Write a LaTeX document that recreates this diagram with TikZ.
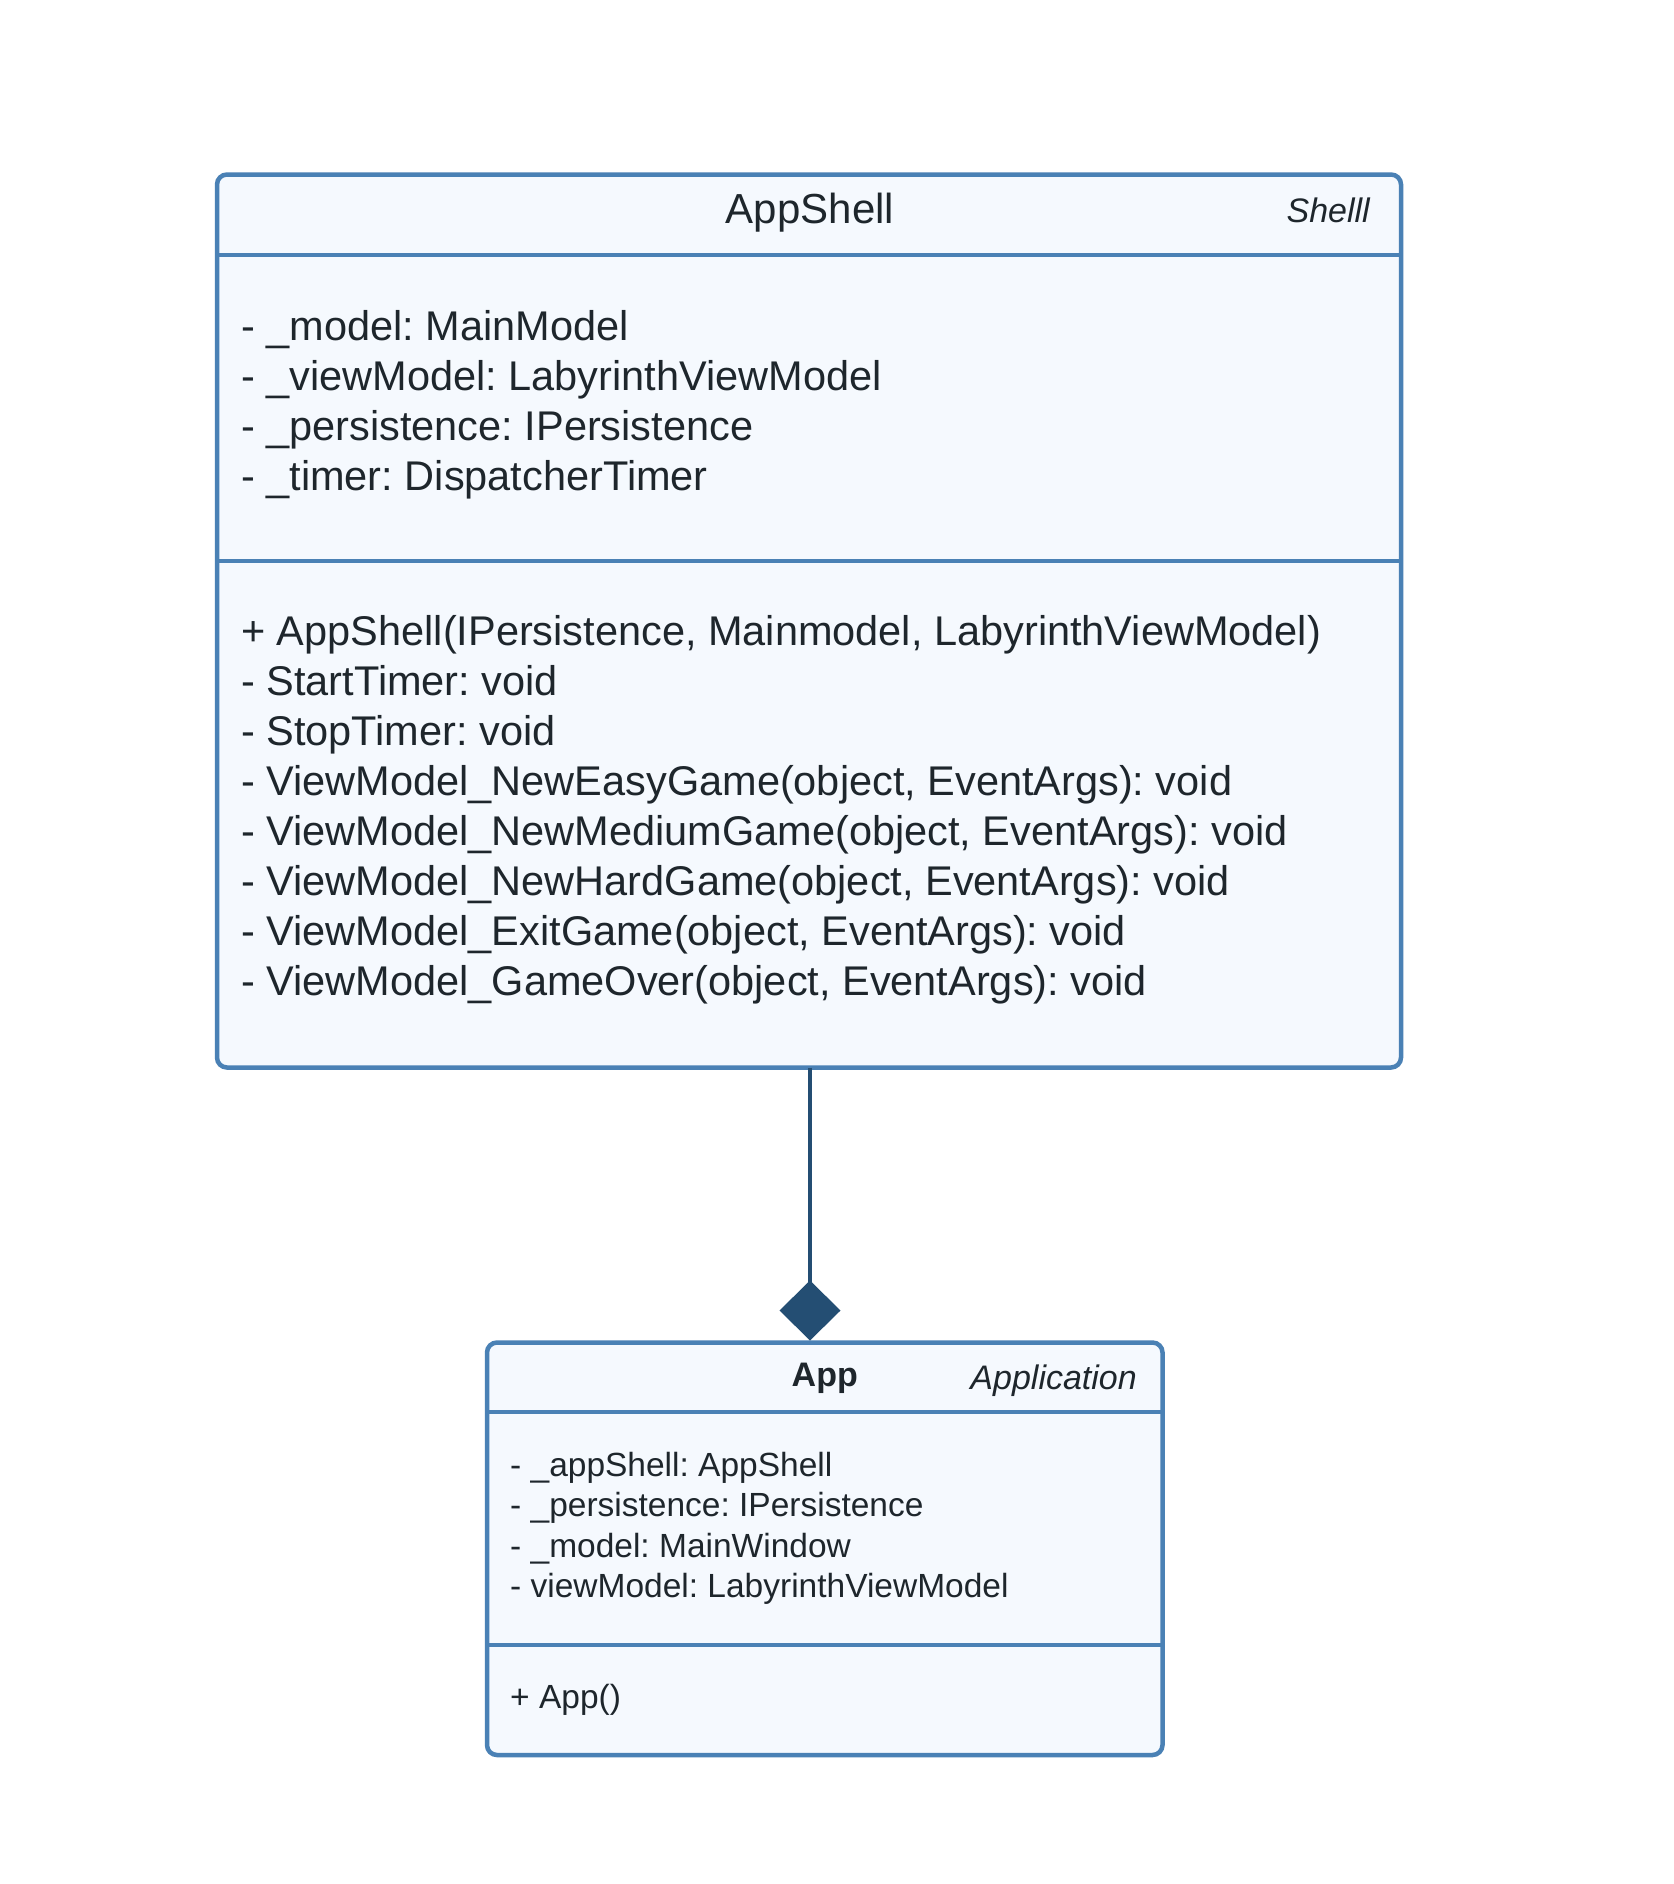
\documentclass[tikz,border=0pt]{standalone}
\usepackage{fontspec}
\setmainfont{Liberation Sans}
\usetikzlibrary{arrows.meta}
\definecolor{bordc}{RGB}{74,129,181}
\definecolor{fillc}{RGB}{245,249,254}
\definecolor{connc}{RGB}{36,78,115}
\definecolor{txtc}{RGB}{30,38,44}
\tikzset{
  classbox/.style={draw=bordc, fill=fillc, line width=4.5pt, rounded corners=10pt, inner sep=0pt, outer sep=0pt, anchor=north west},
  sepline/.style={draw=bordc, line width=4.5pt},
  bigtxt/.style={text=txtc, inner sep=0pt, anchor=base west, font=\fontsize{41.5}{50}\selectfont},
  smalltxt/.style={text=txtc, inner sep=0pt, anchor=base west, font=\fontsize{33.5}{40}\selectfont},
  conn/.style={draw=connc, line width=4pt, shorten >=2pt, -{Diamond[width=61pt,length=60pt,fill=connc]}},
}
\begin{document}
\frenchspacing
\begin{tikzpicture}[x=1pt, y=-1pt]
\useasboundingbox[fill=white] (0,0) rectangle (1673,1884);
% AppShell box
\node[classbox, minimum width=1184pt, minimum height=893pt] (shell) at (217,174.5) {};
\draw[sepline] (shell.west |- 0,255) -- (shell.east |- 0,255);
\draw[sepline] (shell.west |- 0,561) -- (shell.east |- 0,561);
\node[text=txtc, inner sep=0pt, anchor=base, font=\fontsize{42}{50}\selectfont] (shelltitle) at (810,223) {AppShell};
\node[text=txtc, inner sep=0pt, anchor=base east, font=\fontsize{34}{40}\selectfont\itshape] (shellst) at (1370,222) {Shelll};
\foreach \t [count=\i] in {{- \_model: MainModel},{- \_viewModel: LabyrinthViewModel},{- \_persistence: IPersistence},{- \_timer: DispatcherTimer}}
  \node[bigtxt] (sa\i) at (241,{340+50*(\i-1)}) {\t};
\foreach \t [count=\i] in {{+ AppShell(IPersistence, Mainmodel, LabyrinthViewModel)},{- StartTimer: void},{- StopTimer: void},{- ViewModel\_NewEasyGame(object, EventArgs): void},{- ViewModel\_NewMediumGame(object, EventArgs): void},{- ViewModel\_NewHardGame(object, EventArgs): void},{- ViewModel\_ExitGame(object, EventArgs): void},{- ViewModel\_GameOver(object, EventArgs): void}}
  \node[bigtxt] (sm\i) at (241,{645+50*(\i-1)}) {\t};
% App box
\node[classbox, minimum width=675.5pt, minimum height=412.5pt] (app) at (487,1342.5) {};
\draw[sepline] (app.west |- 0,1412) -- (app.east |- 0,1412);
\draw[sepline] (app.west |- 0,1645) -- (app.east |- 0,1645);
\node[text=txtc, inner sep=0pt, anchor=base, font=\fontsize{34}{40}\selectfont\bfseries] (apptitle) at (824.75,1386) {App};
\node[text=txtc, inner sep=0pt, anchor=base east, font=\fontsize{34}{40}\selectfont\itshape] (appst) at (1137,1389) {Application};
\foreach \t [count=\i] in {{- \_appShell: AppShell},{- \_persistence: IPersistence},{- \_model: MainWindow},{- viewModel: LabyrinthViewModel}}
  \node[smalltxt] (aa\i) at (510,{1476+40.5*(\i-1)}) {\t};
\node[smalltxt] (am1) at (510,1708) {+ App()};
% connector
\draw[conn] (shell.south -| 810,0) -- (app.north -| 810,0);
\end{tikzpicture}
\end{document}
